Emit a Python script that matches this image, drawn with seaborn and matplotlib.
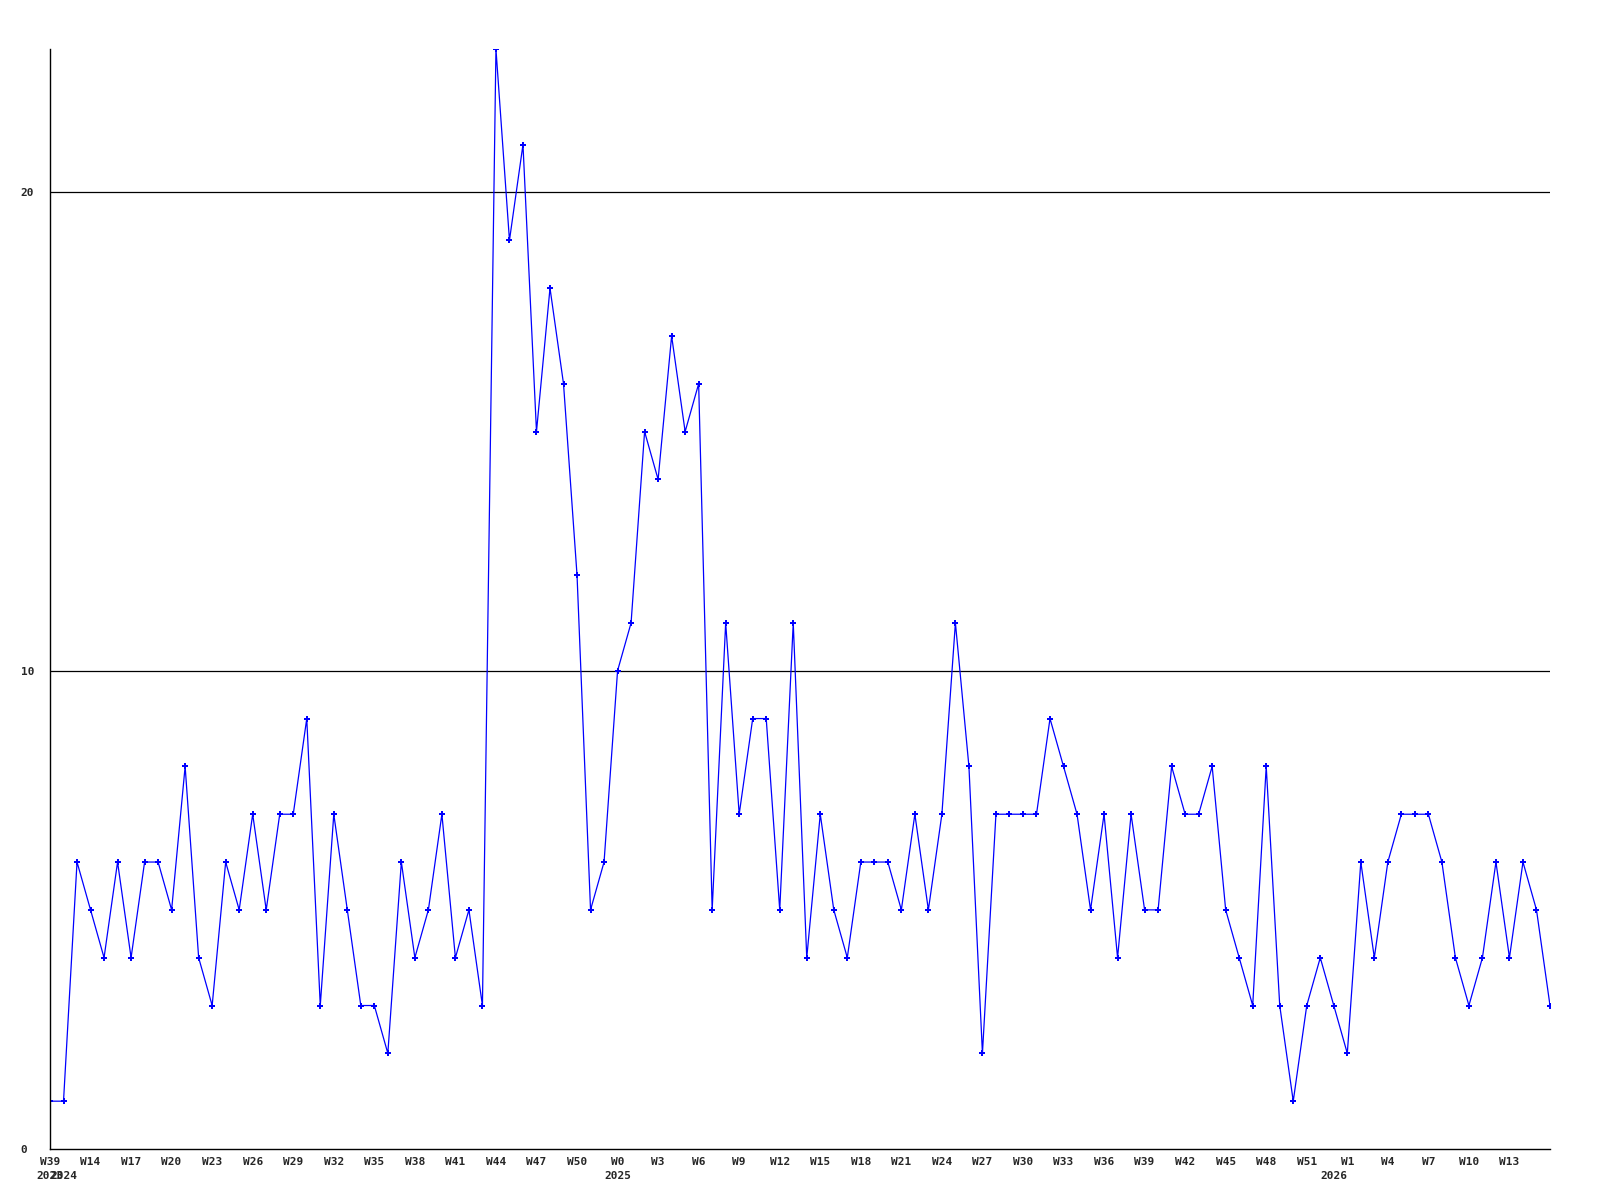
import pandas as pd
import matplotlib
matplotlib.use("Agg")
import matplotlib.pyplot as plt
import matplotlib.transforms as mtransforms
import seaborn as sns

sns.set_style("white")
plt.rcParams['font.family'] = ['DejaVu Sans Mono']

# --- data: one value per week ---
years = [2023] + [2024] * 41 + [2025] * 53 + [2026] * 17
weeks = [39] + list(range(12, 53)) + list(range(0, 53)) + list(range(0, 17))
counts = [1, 1, 6, 5, 4, 6, 4, 6, 6, 5, 8, 4, 3, 6, 5, 7, 5, 7, 7, 9,
          3, 7, 5, 3, 3, 2, 6, 4, 5, 7, 4, 5, 3, 23, 19, 21, 15, 18, 16, 12,
          5, 6, 10, 11, 15, 14, 17, 15, 16, 5, 11, 7, 9, 9, 5, 11, 4, 7, 5, 4,
          6, 6, 6, 5, 7, 5, 7, 11, 8, 2, 7, 7, 7, 7, 9, 8, 7, 5, 7, 4,
          7, 5, 5, 8, 7, 7, 8, 5, 4, 3, 8, 3, 1, 3, 4, 3, 2, 6, 4, 6,
          7, 7, 7, 6, 4, 3, 4, 6, 4, 6, 5, 3]

df = pd.DataFrame({'year': years, 'week': weeks, 'count': counts})
df['idx'] = range(len(df))

fig = plt.figure(figsize=(16, 12), dpi=100)
ax = fig.add_axes([50 / 1600, 1 - 1149 / 1200, 1500 / 1600, 1100 / 1200])

sns.lineplot(data=df, x='idx', y='count', ax=ax, color='#0000ff', linewidth=0.9,
             marker='P', markersize=4, markeredgewidth=0, markerfacecolor='#0000ff')

ax.set_xlim(0, len(df) - 1)
ax.set_ylim(0, 23)

# horizontal reference lines
for yv in [10, 20]:
    ax.axhline(yv, color='black', linewidth=0.9, zorder=0)

# spines
for side in ['top', 'right']:
    ax.spines[side].set_visible(False)
for side in ['left', 'bottom']:
    ax.spines[side].set_color('black')
    ax.spines[side].set_linewidth(1.0)

# week ticks every 3 weeks (last partial group not labelled)
labelled = df.iloc[:-1:3]
ax.set_xticks(labelled['idx'])
ax.set_xticklabels(['W%d' % w for w in labelled['week']], fontsize=8, fontweight='bold')
ax.tick_params(axis='x', length=0, pad=6)

ax.set_yticks([0, 10, 20])
ax.set_yticklabels(['0', '10', '20'], fontsize=8, fontweight='bold', ha='left')
ax.tick_params(axis='y', length=0, pad=21)

ax.set_xlabel('')
ax.set_ylabel('')

# year labels where the year changes
trans = mtransforms.blended_transform_factory(ax.transData, ax.transAxes)
year_start = df[df['year'] != df['year'].shift()]
for _, row in year_start.iterrows():
    ax.text(row['idx'], -27 / 1100, str(row['year']), transform=trans,
            ha='center', va='center', fontsize=8, fontweight='bold')

fig.savefig('out.png', dpi=100, facecolor='white')
